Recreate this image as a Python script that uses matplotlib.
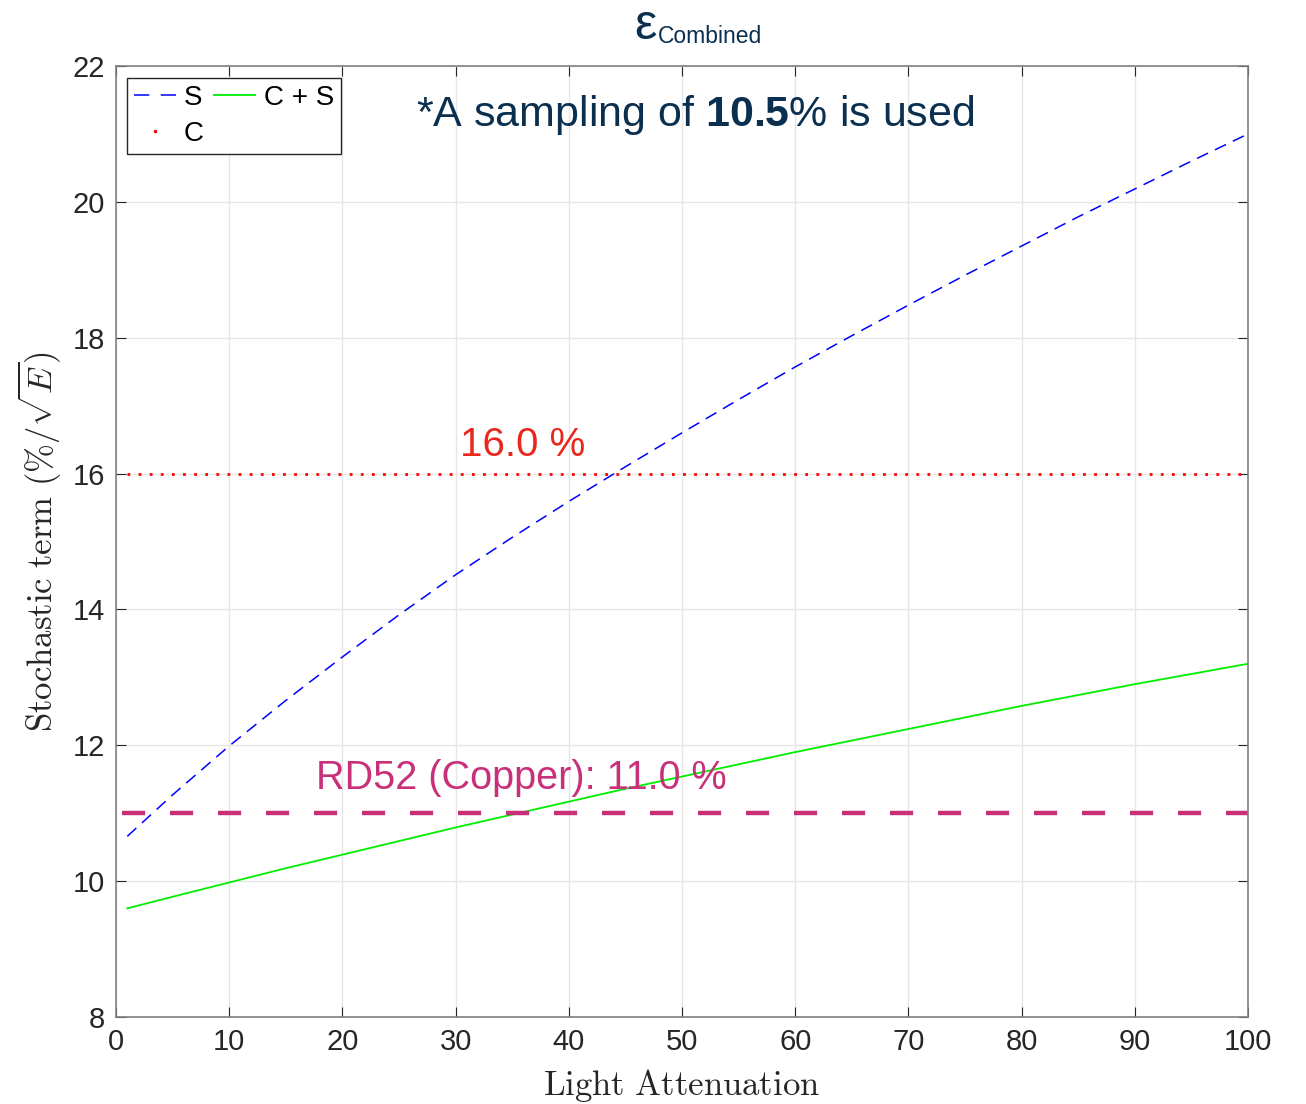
import numpy as np
import matplotlib

matplotlib.use("Agg")
import matplotlib.pyplot as plt
from matplotlib.lines import Line2D

# stochastic-term curves vs light attenuation
atten = [1, 5, 10, 15, 20, 25, 30, 35, 40, 45, 50, 55, 60, 65, 70, 75, 80, 85, 90, 95, 100]
stoch_s = [10.66, 11.27, 11.99, 12.66, 13.30, 13.92, 14.51, 15.06, 15.59, 16.10, 16.60, 17.09,
           17.57, 18.03, 18.48, 18.92, 19.35, 19.78, 20.19, 20.60, 21.0]
stoch_cs = [9.60, 9.77, 9.98, 10.19, 10.39, 10.59, 10.79, 10.98, 11.17, 11.36, 11.54, 11.72,
            11.90, 12.07, 12.24, 12.41, 12.58, 12.74, 12.90, 13.05, 13.2]
const_c = 16.0       # C alone
rd52_copper = 11.0   # RD52 reference
sampling = 10.5

xticks = list(range(0, 101, 10))
yticks = list(range(8, 23, 2))

C_TITLE = "#0b2f4f"
C_RED = "#e8281c"
C_MAG = "#c9307a"

plt.rcParams["font.family"] = ["Liberation Sans", "DejaVu Sans"]
plt.rcParams["mathtext.fontset"] = "custom"
plt.rcParams["mathtext.rm"] = "Liberation Sans"
plt.rcParams["mathtext.bf"] = "Liberation Sans:bold"

fig = plt.figure(figsize=(13.06, 11.04), dpi=100)
ax = fig.add_axes([0.0888, 0.0788, 0.8668, 0.8614])

ax.plot(atten, stoch_s, color="#0000ff", ls=(0, (8, 5)), lw=1.1)
ax.plot(atten, stoch_cs, color="#00ee00", ls="-", lw=1.3)
ax.plot([1, 100], [const_c, const_c], color="#ff0000", ls=(0, (1, 3)), lw=2.0)
ax.plot([0.5, 100], [rd52_copper, rd52_copper], color=C_MAG, ls=(0, (5.2, 5.6)), lw=3.2)

ax.text(30.4, const_c + 0.26, f"{const_c:.1f} %", color=C_RED, fontsize=29, va="baseline")
ax.text(17.7, 11.36, f"RD52 (Copper): {rd52_copper:.1f} %", color=C_MAG,
        fontsize=28.5, va="baseline")
ax.text(51.15, 21.28, r"*A sampling of $\mathbf{" + f"{sampling}" + r"}$% is used",
        color=C_TITLE, fontsize=31, ha="center", va="center", math_fontfamily="custom")

ax.set_xlim(0, 100)
ax.set_ylim(8, 22)
ax.set_xticks(xticks)
ax.set_yticks(yticks)
ax.tick_params(direction="in", top=True, right=True, labelsize=21, length=7,
               color="#262626", labelcolor="#262626", pad=8)
ax.grid(True, color="#e6e6e6", lw=1.0)
ax.set_axisbelow(True)
for sp in ax.spines.values():
    sp.set_color("#808080")
    sp.set_linewidth(1.2)

ax.set_xlabel(r"$\mathrm{Light\ Attenuation}$", fontsize=25, math_fontfamily="cm",
              color="#262626", labelpad=8)
ax.set_ylabel(r"$\mathrm{Stochastic\ term}\ (\%/\sqrt{E})$", fontsize=25,
              math_fontfamily="cm", color="#262626", labelpad=6)

handles = [
    Line2D([], [], color="#0000ff", ls=(0, (10, 7.5)), lw=1.1),
    Line2D([], [], color="#ff0000", marker=".", ms=3, ls="none"),
    Line2D([], [], color="#00ee00", ls="-", lw=1.3),
]
leg = ax.legend(handles, ["S", "C", "C + S"], ncol=2, loc="upper left",
                bbox_to_anchor=(0.0097, 0.9875), fontsize=20, fancybox=False,
                framealpha=1, edgecolor="#262626", handlelength=1.5,
                handletextpad=0.3, columnspacing=0.35, borderpad=0.25,
                labelspacing=0.35, borderaxespad=0)
leg.get_frame().set_linewidth(1.0)

# title: epsilon with "Combined" subscript
fig.text(0.5025, 0.9647, "ε", color=C_TITLE, fontsize=36, ha="right", va="baseline")
fig.text(0.5035, 0.9611, "Combined", color=C_TITLE, fontsize=16.5, ha="left",
         va="baseline")

fig.savefig("out.png", dpi=100)
